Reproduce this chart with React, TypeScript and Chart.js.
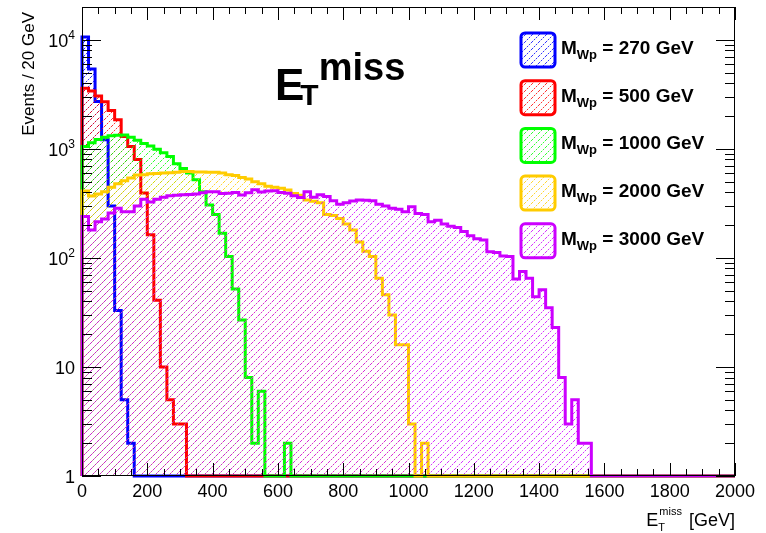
import { useEffect, useRef } from 'react';
import { Chart, registerables } from 'chart.js';

Chart.register(...registerables);

// ---------------- data ----------------
const BIN_WIDTH = 20; // GeV
const X_MIN = 0;
const X_MAX = 2000;
const Y_MIN = 1;
const Y_MAX = 20000;

const X_TICKS = [0, 200, 400, 600, 800, 1000, 1200, 1400, 1600, 1800, 2000];
const X_MINOR_STEP = 50;
const Y_DECADES = [1, 10, 100, 1000, 10000];
const Y_TICK_LABELS: [string, string][] = [
  ['1', ''],
  ['10', ''],
  ['10', '2'],
  ['10', '3'],
  ['10', '4'],
];

const MASS_LABELS = ['270', '500', '1000', '2000', '3000'];
const COLORS = ['#0000ff', '#ff0000', '#00ff00', '#ffcc00', '#cc00ff'];

// Events per 20 GeV bin, starting at 0 GeV (bins after the last listed one are empty)
const M270 = [10600, 5400, 2720, 1210, 300, 33, 5, 2];
const M500 = [3600, 3400, 3050, 2700, 2250, 1850, 1300, 1050, 800, 393, 163, 41, 10, 5, 3, 3];
const M1000 = [
  1050, 1140, 1220, 1280, 1320, 1330, 1340, 1280, 1200, 1120,
  1060, 990, 920, 850, 730, 660, 600, 520, 405, 305,
  250, 168, 103, 52, 27, 8, 2, 6, 0, 0,
  0, 2,
];
const M2000 = [
  410, 370, 385, 405, 445, 480, 510, 540, 575, 580,
  590, 595, 600, 605, 610, 620, 620, 615, 615, 610,
  610, 600, 580, 570, 545, 530, 500, 480, 455, 445,
  435, 420, 390, 375, 340, 330, 320, 250, 245, 230,
  205, 180, 140, 115, 103, 65, 46, 30, 16, 16,
  3, 0, 2,
];
const M3000 = [
  240, 180, 215, 228, 258, 285, 265, 265, 300, 345,
  325, 345, 360, 372, 375, 380, 382, 385, 395, 405,
  405, 390, 392, 398, 378, 395, 422, 403, 410, 412,
  398, 392, 372, 358, 405, 360, 380, 365, 335, 310,
  320, 332, 340, 338, 335, 310, 300, 285, 280, 265,
  295, 255, 250, 215, 222, 205, 195, 190, 175, 160,
  150, 146, 114, 112, 104, 103, 64, 75, 65, 44,
  51, 35, 23, 8, 3, 5, 2, 2,
];
const SERIES = [M270, M500, M1000, M2000, M3000];

// ---------------- helpers ----------------
const FONT = '"Liberation Sans", Arial, Helvetica, sans-serif';

function toSteps(values: number[]) {
  const n = Math.round((X_MAX - X_MIN) / BIN_WIDTH);
  const pts: { x: number; y: number }[] = [{ x: X_MIN, y: Y_MIN }];
  let last = Y_MIN;
  for (let i = 0; i < n; i++) {
    const v = values[i] ?? 0;
    last = v > 0 ? v : Y_MIN; // empty bins sit on the axis floor, as in ROOT
    pts.push({ x: X_MIN + i * BIN_WIDTH, y: last });
  }
  pts.push({ x: X_MAX, y: last });
  return pts;
}

function makeHatch(color: string): CanvasPattern | string {
  const s = 7;
  const c = document.createElement('canvas');
  c.width = s;
  c.height = s;
  const g = c.getContext('2d');
  if (!g) return 'transparent';
  for (let i = 0; i < s; i++) {
    g.globalAlpha = i % 2 === 0 ? 0.8 : 0.2;
    g.fillStyle = color;
    g.fillRect(i, s - 1 - i, 1, 1);
  }
  return g.createPattern(c, 'repeat') || 'transparent';
}

function roundRect(ctx: CanvasRenderingContext2D, x: number, y: number, w: number, h: number, r: number) {
  ctx.beginPath();
  ctx.moveTo(x + r, y);
  ctx.lineTo(x + w - r, y);
  ctx.arcTo(x + w, y, x + w, y + r, r);
  ctx.lineTo(x + w, y + h - r);
  ctx.arcTo(x + w, y + h, x + w - r, y + h, r);
  ctx.lineTo(x + r, y + h);
  ctx.arcTo(x, y + h, x, y + h - r, r);
  ctx.lineTo(x, y + r);
  ctx.arcTo(x, y, x + r, y, r);
  ctx.closePath();
}

const rootStyle = {
  id: 'rootStyle',
  beforeDraw(chart: any) {
    const ctx = chart.ctx as CanvasRenderingContext2D;
    ctx.save();
    ctx.fillStyle = '#ffffff';
    ctx.fillRect(0, 0, chart.width, chart.height);
    ctx.restore();
  },
  afterDatasetsDraw(chart: any) {
    const ctx = chart.ctx as CanvasRenderingContext2D;
    const xs = chart.scales.x;
    const ys = chart.scales.y;
    const { left, right, top, bottom } = chart.chartArea;
    ctx.save();

    // frame
    ctx.strokeStyle = '#000';
    ctx.lineWidth = 1;
    ctx.strokeRect(left + 0.5, top + 0.5, right - left - 1, bottom - top - 1);

    // x ticks (inside, bottom and top)
    ctx.beginPath();
    for (let v = X_MIN; v <= X_MAX; v += X_MINOR_STEP) {
      const px = Math.round(xs.getPixelForValue(v)) + 0.5;
      const len = X_TICKS.includes(v) ? 13 : 7;
      ctx.moveTo(px, bottom);
      ctx.lineTo(px, bottom - len);
      ctx.moveTo(px, top);
      ctx.lineTo(px, top + len);
    }
    // y ticks (inside, left and right)
    for (const d of Y_DECADES) {
      for (let m = 1; m <= 9; m++) {
        const v = d * m;
        if (v > Y_MAX) break;
        const py = Math.round(ys.getPixelForValue(v)) + 0.5;
        const len = m === 1 ? 19 : 10;
        ctx.moveTo(left, py);
        ctx.lineTo(left + len, py);
        ctx.moveTo(right, py);
        ctx.lineTo(right - len, py);
      }
    }
    ctx.stroke();

    // x tick labels
    ctx.fillStyle = '#000';
    ctx.font = `18px ${FONT}`;
    ctx.textAlign = 'center';
    ctx.textBaseline = 'alphabetic';
    for (const v of X_TICKS) {
      ctx.fillText(String(v), xs.getPixelForValue(v), bottom + 21);
    }

    // y tick labels with superscripts
    Y_DECADES.forEach((d, i) => {
      const [base, sup] = Y_TICK_LABELS[i];
      const py = ys.getPixelForValue(d);
      ctx.textAlign = 'right';
      ctx.textBaseline = 'alphabetic';
      const xr = left - 7;
      if (sup) {
        ctx.font = `12px ${FONT}`;
        const sw = ctx.measureText(sup).width;
        ctx.fillText(sup, xr, py - 1);
        ctx.font = `18px ${FONT}`;
        ctx.fillText(base, xr - sw, py + 7);
      } else {
        ctx.font = `18px ${FONT}`;
        ctx.fillText(base, xr, py + 7);
      }
    });

    // y axis title
    ctx.save();
    ctx.translate(29, top + 5);
    ctx.rotate(-Math.PI / 2);
    ctx.font = `17px ${FONT}`;
    ctx.textAlign = 'right';
    ctx.textBaseline = 'middle';
    ctx.fillText('Events / 20 GeV', 0, 0);
    ctx.restore();

    // x axis title: E_T^miss [GeV], right aligned to axis end
    {
      ctx.textAlign = 'left';
      ctx.textBaseline = 'alphabetic';
      const base = bottom + 50;
      ctx.font = `18px ${FONT}`;
      const wUnit = ctx.measureText(' [GeV]').width;
      const wE = ctx.measureText('E').width;
      ctx.font = `11px ${FONT}`;
      const wMiss = ctx.measureText('miss').width;
      const x0 = right - wUnit - wMiss - wE - 3;
      ctx.font = `18px ${FONT}`;
      ctx.fillText('E', x0, base);
      ctx.font = `11px ${FONT}`;
      ctx.fillText('miss', x0 + wE + 1, base - 11);
      ctx.fillText('T', x0 + wE, base + 5);
      ctx.font = `18px ${FONT}`;
      ctx.fillText(' [GeV]', x0 + wE + wMiss + 3, base);
    }

    // big title E_T^miss
    {
      ctx.textAlign = 'left';
      ctx.textBaseline = 'alphabetic';
      const x0 = 275;
      ctx.font = `bold 44px ${FONT}`;
      ctx.fillText('E', x0, 100);
      const wE = ctx.measureText('E').width;
      ctx.font = `bold 30px ${FONT}`;
      ctx.fillText('T', x0 + wE - 4, 105);
      const wT = ctx.measureText('T').width;
      ctx.font = `bold 38px ${FONT}`;
      ctx.fillText('miss', x0 + wE - 4 + wT, 80);
    }

    // legend
    const boxX = 521;
    const boxS = 34;
    SERIES.forEach((_, i) => {
      const cy = 50 + i * 47.7;
      const ds = chart.data.datasets[i];
      roundRect(ctx, boxX, cy - boxS / 2, boxS, boxS, 4);
      ctx.fillStyle = ds.backgroundColor;
      ctx.fill();
      ctx.strokeStyle = COLORS[i];
      ctx.lineWidth = 3;
      ctx.stroke();
      ctx.fillStyle = '#000';
      ctx.textAlign = 'left';
      ctx.textBaseline = 'alphabetic';
      let tx = 561;
      ctx.font = `bold 19px ${FONT}`;
      ctx.fillText('M', tx, cy + 4);
      tx += ctx.measureText('M').width;
      ctx.font = `bold 13px ${FONT}`;
      ctx.fillText('Wp', tx, cy + 9);
      tx += ctx.measureText('Wp').width;
      ctx.font = `bold 19px ${FONT}`;
      ctx.fillText(` = ${MASS_LABELS[i]} GeV`, tx, cy + 4);
    });

    ctx.restore();
  },
};

export default function App() {
  const ref = useRef<HTMLCanvasElement | null>(null);
  useEffect(() => {
    if (!ref.current) return;
    const datasets = SERIES.map((vals, i) => ({
      label: `M_Wp = ${MASS_LABELS[i]} GeV`,
      data: toSteps(vals),
      borderColor: COLORS[i],
      backgroundColor: makeHatch(COLORS[i]),
      borderWidth: 3,
      fill: 'start',
      stepped: true,
      pointRadius: 0,
      borderJoinStyle: 'miter',
      clip: 3,
      order: SERIES.length - 1 - i,
    }));
    const chart = new Chart(ref.current, {
      type: 'line',
      data: { datasets } as any,
      options: {
        animation: false,
        responsive: false,
        maintainAspectRatio: false,
        layout: { padding: { left: 82, right: 31, top: 7, bottom: 57 } },
        scales: {
          x: { type: 'linear', min: X_MIN, max: X_MAX, display: false },
          y: { type: 'logarithmic', min: Y_MIN, max: Y_MAX, display: false },
        },
        plugins: { legend: { display: false }, tooltip: { enabled: false } },
        elements: { point: { radius: 0 } },
      } as any,
      plugins: [rootStyle as any],
    });
    return () => chart.destroy();
  }, []);
  return (
    <div style={{ position: 'fixed', left: 0, top: 0, width: 766, height: 533, background: '#fff' }}>
      <canvas ref={ref} width={766} height={533} style={{ width: 766, height: 533, display: 'block' }} />
    </div>
  );
}
